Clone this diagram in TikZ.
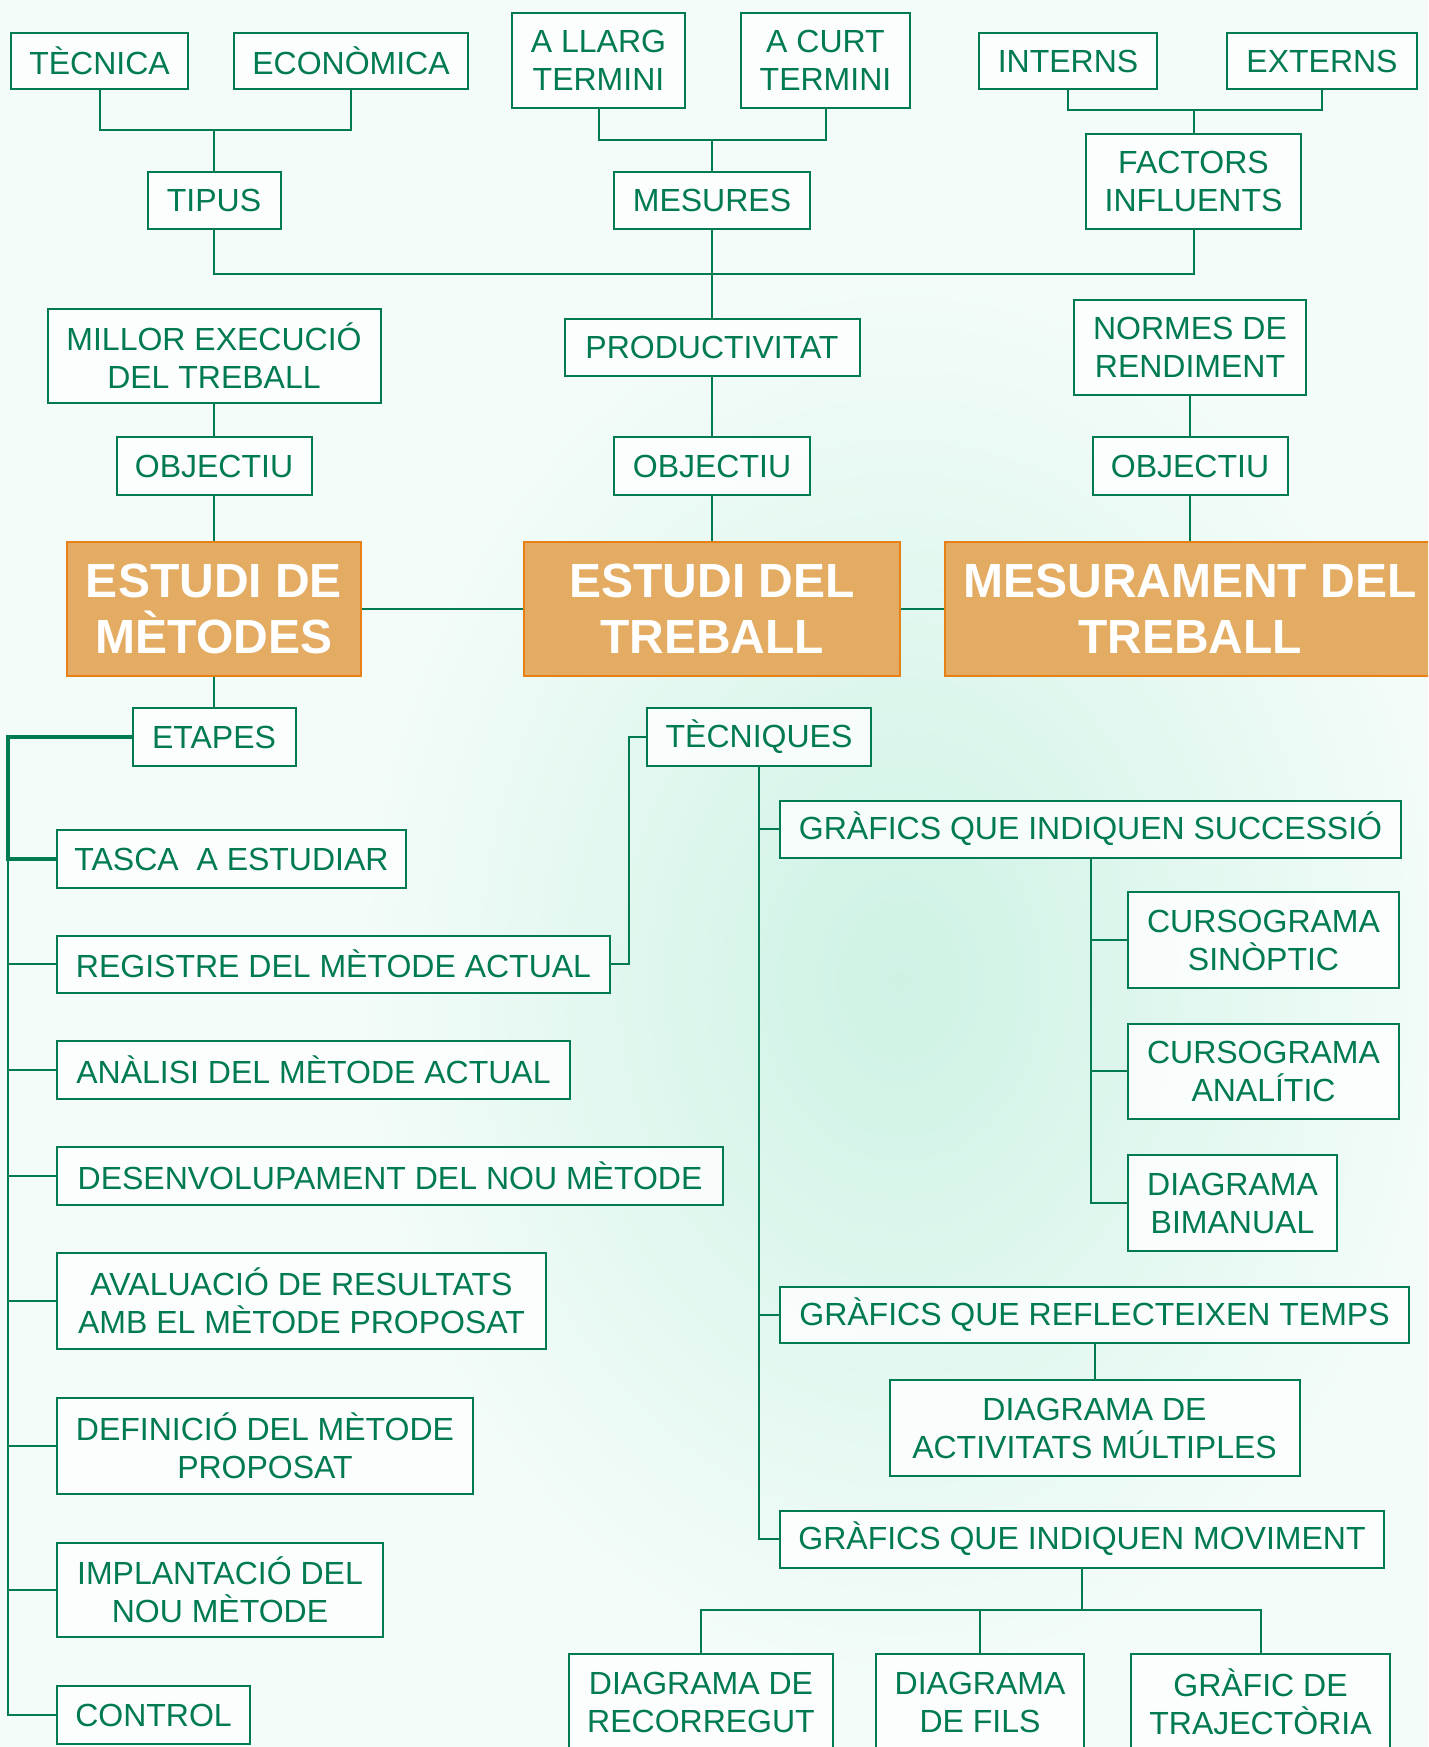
\documentclass[tikz,border=0pt]{standalone}
\usepackage{fontspec}
\setmainfont{Liberation Sans}
\usepackage{xcolor}
\definecolor{verdfosc}{RGB}{0,122,82}
\definecolor{taronjaclar}{RGB}{228,172,98}
\definecolor{taronjavora}{RGB}{232,128,24}
\definecolor{menta}{RGB}{205,242,228}
\definecolor{fonsclar}{RGB}{244,252,249}
\tikzset{
  caixa/.style={draw=verdfosc,line width=2pt,fill=white,fill opacity=0.8,text opacity=1,
    text=verdfosc,align=center,inner sep=2pt,font=\fontsize{32}{38}\selectfont},
  gran/.style={draw=taronjavora,line width=2pt,fill=taronjaclar,text=white,align=center,
    inner sep=2pt,font=\bfseries\fontsize{48}{56}\selectfont},
  mida/.style 2 args={minimum width=#1pt,minimum height=#2pt},
  linia/.style={verdfosc,line width=2pt}
}

\begin{document}
\begin{tikzpicture}[x=1pt,y=-1pt]
    \useasboundingbox (0,0) rectangle (1428,1747);
    \clip (0,0) rectangle (1428,1747);
    \fill[fonsclar] (0,0) rectangle (1428,1747);
    \shade[inner color=menta,outer color=fonsclar] (900,980) ellipse (560 and 720);

    \node[caixa,mida={177}{56}] (tecnica) at (99.5,61) {TÈCNICA};
    \node[caixa,mida={234}{56}] (economica) at (351,61) {ECONÒMICA};
    \node[caixa,mida={173}{95}] (llarg) at (598.5,60.5) {A LLARG\\TERMINI};
    \node[caixa,mida={169}{95}] (curt) at (825.5,60.5) {A CURT\\TERMINI};
    \node[caixa,mida={178}{56}] (interns) at (1068,61) {INTERNS};
    \node[caixa,mida={190}{56}] (externs) at (1322,61) {EXTERNS};
    \node[caixa,mida={133}{57}] (tipus) at (214,200.5) {TIPUS};
    \node[caixa,mida={196}{57}] (mesures) at (712,200.5) {MESURES};
    \node[caixa,mida={215}{95}] (factors) at (1193.5,181.5) {FACTORS\\INFLUENTS};
    \node[caixa,mida={333}{94}] (millor) at (214,356) {MILLOR EXECUCIÓ\\DEL TREBALL};
    \node[caixa,mida={295}{57}] (productivitat) at (712,347.5) {PRODUCTIVITAT};
    \node[caixa,mida={232}{95}] (normes) at (1190,347.5) {NORMES DE\\RENDIMENT};
    \node[caixa,mida={195}{58}] (objmetodes) at (214,466) {OBJECTIU};
    \node[caixa,mida={196}{58}] (objtreball) at (712,466) {OBJECTIU};
    \node[caixa,mida={195}{58}] (objmesura) at (1190,466) {OBJECTIU};
    \node[gran,mida={294}{134}] (metodes) at (214,609) {ESTUDI DE\\MÈTODES};
    \node[gran,mida={376}{134}] (treball) at (712,609) {ESTUDI DEL\\TREBALL};
    \node[gran,mida={490}{134}] (mesurament) at (1190,609) {MESURAMENT DEL\\TREBALL};
    \node[caixa,mida={163}{58}] (etapes) at (214,737) {ETAPES};
    \node[caixa,mida={224}{58}] (tecniques) at (759,737) {TÈCNIQUES};

    \node[caixa,mida={349}{58},anchor=west] (tasca) at (56,859) {TASCA\ \ A ESTUDIAR};
    \node[caixa,mida={553}{57},anchor=west] (registre) at (56,964) {REGISTRE DEL MÈTODE ACTUAL};
    \node[caixa,mida={513}{58},anchor=west] (analisi) at (56,1070) {ANÀLISI DEL MÈTODE ACTUAL};
    \node[caixa,mida={666}{58},anchor=west] (desenv) at (56,1176) {DESENVOLUPAMENT DEL NOU MÈTODE};
    \node[caixa,mida={489}{96},anchor=west] (avaluacio) at (56,1301) {AVALUACIÓ DE RESULTATS\\AMB EL MÈTODE PROPOSAT};
    \node[caixa,mida={416}{96},anchor=west] (definicio) at (56,1446) {DEFINICIÓ DEL MÈTODE\\PROPOSAT};
    \node[caixa,mida={326}{94},anchor=west] (implantacio) at (56,1590) {IMPLANTACIÓ DEL\\NOU MÈTODE};
    \node[caixa,mida={193}{58},anchor=west] (control) at (56,1715) {CONTROL};

    \node[caixa,mida={621}{57},anchor=west] (successio) at (779,829) {GRÀFICS QUE INDIQUEN SUCCESSIÓ};
    \node[caixa,mida={271}{96},anchor=west] (sinoptic) at (1127,940) {CURSOGRAMA\\SINÒPTIC};
    \node[caixa,mida={271}{95},anchor=west] (analitic) at (1127,1071) {CURSOGRAMA\\ANALÍTIC};
    \node[caixa,mida={209}{96},anchor=west] (bimanual) at (1127,1203) {DIAGRAMA\\BIMANUAL};
    \node[caixa,mida={629}{56},anchor=west] (temps) at (779,1315) {GRÀFICS QUE REFLECTEIXEN TEMPS};
    \node[caixa,mida={410}{96},anchor=north] (activitats) at (temps.south |- 0,1379) {DIAGRAMA DE\\ACTIVITATS MÚLTIPLES};
    \node[caixa,mida={604}{57},anchor=west] (moviment) at (779,1539) {GRÀFICS QUE INDIQUEN MOVIMENT};
    \node[caixa,mida={264}{96}] (recorregut) at (701,1702) {DIAGRAMA DE\\RECORREGUT};
    \node[caixa,mida={208}{96}] (fils) at (980,1702) {DIAGRAMA\\DE FILS};
    \node[caixa,mida={259}{96}] (trajectoria) at (1260.5,1702) {GRÀFIC DE\\TRAJECTÒRIA};

    \coordinate (jtipus) at (214,130);
    \coordinate (jmesures) at (712,140);
    \coordinate (jfactors) at (1193.5,110);
    \coordinate (jcentre) at (712,274);
    \coordinate (jetapes) at (8,737);
    \coordinate (jtecniques) at (629,737);
    \coordinate (jmoviment) at (moviment.south |- 0,1610);

    \draw[linia] (tecnica.south) |- (jtipus) -| (economica.south);
    \draw[linia] (jtipus) -- (tipus.north);
    \draw[linia] (llarg.south) |- (jmesures) -| (curt.south);
    \draw[linia] (jmesures) -- (mesures.north);
    \draw[linia] (interns.south) |- (jfactors) -| (externs.south);
    \draw[linia] (jfactors) -- (factors.north);
    \draw[linia] (tipus.south) |- (jcentre) -| (factors.south);
    \draw[linia] (mesures.south) -- (productivitat.north);

    \draw[linia] (millor.south) -- (objmetodes.north);
    \draw[linia] (objmetodes.south) -- (metodes.north);
    \draw[linia] (productivitat.south) -- (objtreball.north);
    \draw[linia] (objtreball.south) -- (treball.north);
    \draw[linia] (normes.south) -- (objmesura.north);
    \draw[linia] (objmesura.south) -- (mesurament.north);
    \draw[linia] (metodes.east) -- (treball.west);
    \draw[linia] (treball.east) -- (mesurament.west);
    \draw[linia] (metodes.south) -- (etapes.north);

    \draw[linia,line width=4pt] (etapes.west) -- (jetapes) |- (tasca.west);
    \foreach \pas in {registre,analisi,desenv,avaluacio,definicio,implantacio,control}
        \draw[linia] (jetapes) |- (\pas.west);

    \draw[linia] (tecniques.west) -- (jtecniques) |- (registre.east);
    \foreach \graf in {successio,temps,moviment}
        \draw[linia] (tecniques.south) |- (\graf.west);
    \foreach \curs in {sinoptic,analitic,bimanual}
        \draw[linia] (successio.south) |- (\curs.west);
    \draw[linia] (temps.south) -- (activitats.north);
    \draw[linia] (moviment.south) -- (jmoviment);
    \draw[linia] (recorregut.north) |- (jmoviment) -| (trajectoria.north);
    \draw[linia] (fils.north) -- (fils.north |- jmoviment);
\end{tikzpicture}
\end{document}
